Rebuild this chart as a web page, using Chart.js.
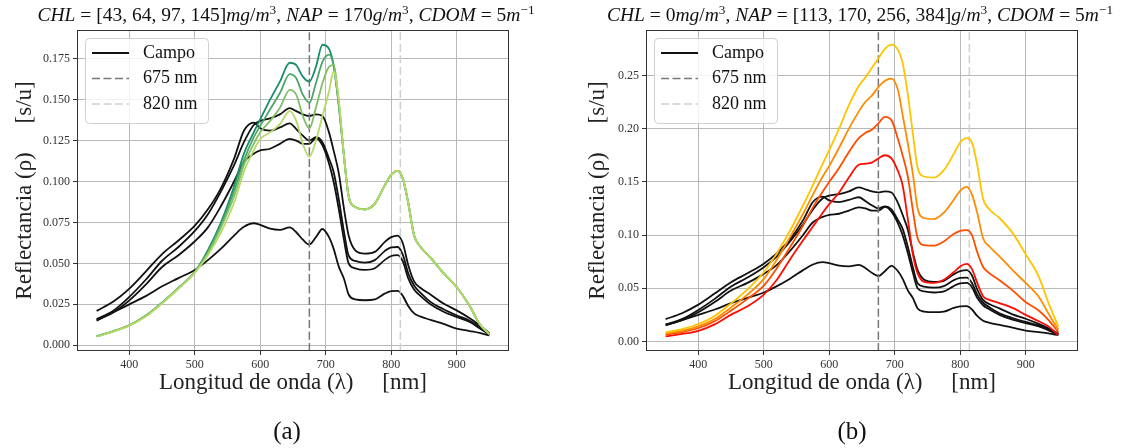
<!DOCTYPE html>
<html>
<head>
<meta charset="utf-8">
<script src="https://cdn.jsdelivr.net/npm/chart.js@4.4.1/dist/chart.umd.min.js"></script>
<style>
  html, body { margin: 0; padding: 0; background: #fff; }
  #wrap { position: relative; width: 1126px; height: 448px; overflow: hidden; font-family: "Liberation Serif", serif; color: #111; }
  canvas { position: absolute; top: 0; }
  .ttl { position: absolute; top: 4px; white-space: nowrap; font-size: 19.5px; line-height: 21px; transform: translateX(-50%); }
  .ttl sup { font-size: 0.68em; vertical-align: 0.5em; line-height: 0; }
  .cap { position: absolute; top: 418px; font-size: 25px; line-height: 26px; transform: translateX(-50%); }
</style>
</head>
<body>
<div id="wrap">
  <canvas id="chartA" width="563" height="448" style="left:0"></canvas>
  <canvas id="chartB" width="563" height="448" style="left:563px"></canvas>
  <div class="ttl" style="left:286px"><i>CHL</i> = [43, 64, 97, 145]<i>mg</i>/<i>m</i><sup>3</sup>, <i>NAP</i> = 170<i>g</i>/<i>m</i><sup>3</sup>, <i>CDOM</i> = 5<i>m</i><sup>−1</sup></div>
  <div class="ttl" style="left:860px"><i>CHL</i> = 0<i>mg</i>/<i>m</i><sup>3</sup>, <i>NAP</i> = [113, 170, 256, 384]<i>g</i>/<i>m</i><sup>3</sup>, <i>CDOM</i> = 5<i>m</i><sup>−1</sup></div>
  <div class="cap" style="left:287px">(a)</div>
  <div class="cap" style="left:852px">(b)</div>
</div>
<script>
// longitudes de onda (nm)
const WL = [350, 375, 400, 425, 450, 475, 500, 520, 540, 560, 575, 590, 600, 615, 630, 645, 655, 665, 675, 685, 695, 705, 712, 720, 728, 735, 745, 760, 775, 790, 800, 810, 818, 826, 835, 845, 860, 880, 900, 920, 935, 950];

// espectros de campo
const CAMPO_1 = [.016, .021, .0296, .040, .0516, .060, .0698, .080, .094, .110, .124, .1345, .137, .1385, .141, .1448, .143, .141, .140, .141, .140, .130, .119, .105, .083, .067, .058, .056, .057, .063, .066, .067, .062, .049, .039, .035, .031, .0255, .0213, .0165, .0123, .0075];
const CAMPO_2 = [.021, .0265, .0346, .045, .0557, .064, .073, .083, .096, .114, .131, .136, .1325, .131, .133, .1355, .132, .128, .125, .127, .124, .114, .106, .089, .069, .0547, .0515, .0505, .052, .0575, .0598, .060, .055, .044, .0365, .032, .0265, .022, .0183, .015, .0114, .007];
const CAMPO_3 = [.0155, .020, .0274, .037, .0478, .055, .0635, .072, .085, .100, .112, .117, .119, .120, .123, .126, .125, .123, .123, .1265, .122, .111, .100, .083, .064, .050, .047, .046, .047, .052, .0545, .055, .051, .041, .034, .030, .025, .0205, .0173, .0142, .0104, .0065];
const CAMPO_4 = [.015, .020, .025, .030, .036, .041, .046, .052, .059, .067, .0723, .0745, .0735, .0712, .0705, .072, .069, .0645, .0615, .066, .071, .066, .059, .048, .0405, .031, .028, .0275, .028, .0315, .033, .0332, .030, .024, .0195, .0175, .0155, .013, .0102, .0087, .0075, .006];

// simulados (a): CHL variable
const CHL_43 = [.0055, .0085, .0122, .018, .026, .035, .0447, .058, .075, .097, .117, .130, .138, .150, .161, .1725, .171, .164, .161, .170, .1835, .181, .171, .146, .115, .091, .0845, .083, .0865, .0975, .104, .1065, .1015, .087, .067, .060, .0535, .044, .0356, .024, .013, .0068];
const CHL_64 = [.0055, .0085, .0122, .018, .026, .035, .0447, .057, .0735, .094, .113, .127, .134, .144, .154, .1655, .163, .153, .148, .160, .173, .1775, .171, .147, .115, .091, .0845, .083, .0865, .0975, .104, .1065, .1015, .087, .067, .060, .0535, .044, .0356, .024, .013, .0068];
const CHL_97 = [.0054, .0084, .0121, .0178, .0258, .0348, .0445, .056, .072, .091, .110, .123, .130, .137, .145, .156, .153, .140, .1325, .145, .160, .170, .171, .148, .115, .091, .0845, .083, .0865, .0975, .104, .1065, .1015, .087, .067, .060, .0535, .044, .0356, .024, .013, .0068];
const CHL_145 = [.0053, .0083, .012, .0176, .0256, .0345, .0443, .055, .069, .087, .106, .119, .126, .130, .135, .143, .137, .123, .115, .125, .140, .155, .167, .150, .115, .091, .0845, .083, .0865, .0975, .104, .1065, .1015, .087, .067, .060, .0535, .044, .0356, .024, .013, .0068];

// simulados (b): NAP variable
const NAP_113 = [.0047, .007, .010, .016, .0252, .033, .044, .058, .077, .095, .108, .121, .129, .140, .154, .166, .167, .168, .172, .175, .172, .160, .147, .115, .081, .064, .056, .055, .058, .065, .0705, .0728, .068, .055, .0425, .039, .036, .0315, .025, .019, .014, .006];
const NAP_170 = [.0063, .0088, .0126, .019, .029, .040, .0525, .069, .0885, .109, .126, .141, .150, .163, .178, .191, .196, .199, .205, .211, .208, .190, .175, .155, .122, .097, .0905, .090, .094, .101, .104, .1047, .100, .084, .070, .064, .0575, .048, .037, .029, .020, .0088];
const NAP_256 = [.0075, .010, .0142, .021, .032, .044, .0588, .077, .098, .120, .138, .155, .165, .182, .200, .216, .225, .231, .239, .245, .247, .236, .213, .186, .156, .125, .116, .115, .121, .133, .1416, .1453, .138, .121, .097, .089, .080, .067, .055, .042, .026, .011];
const NAP_384 = [.0085, .0115, .0164, .024, .0358, .049, .065, .083, .104, .128, .147, .167, .180, .200, .222, .240, .248, .257, .266, .275, .279, .274, .262, .232, .194, .163, .155, .154, .161, .176, .187, .191, .187, .166, .134, .124, .116, .102, .082, .061, .036, .014];

const CAMPO = [CAMPO_1, CAMPO_2, CAMPO_3, CAMPO_4];
const SIM_A = [CHL_43, CHL_64, CHL_97, CHL_145];
const SIM_B = [NAP_113, NAP_170, NAP_256, NAP_384];
const COLORS_A = ['#1a8c6c', '#4ca666', '#80bf66', '#b5da66'];
const COLORS_B = ['#ff0d00', '#ff4d00', '#ff8c00', '#ffc400'];

const X_TICKS = [400, 500, 600, 700, 800, 900];
const Y_TICKS_A = [0, 0.025, 0.05, 0.075, 0.1, 0.125, 0.15, 0.175];
const Y_TICKS_B = [0, 0.05, 0.1, 0.15, 0.2, 0.25];
const V_LINES = [675, 814];
const V_LABELS = ['675 nm', '820 nm'];

const FONT = '"Liberation Serif", serif';

function series(ys) {
  return WL.map((x, i) => ({x: x, y: ys[i]}));
}

const boxPlugin = {
  id: 'boxPlugin',
  afterDatasetsDraw(chart) {
    const ctx = chart.ctx, a = chart.chartArea;
    ctx.save();
    // leyenda
    const x0 = a.left + 8, y0 = a.top + 8, w = 123, h = 85;
    ctx.beginPath();
    ctx.roundRect(x0 + 0.5, y0 + 0.5, w, h, 4);
    ctx.fillStyle = 'rgba(255,255,255,0.8)';
    ctx.fill();
    ctx.strokeStyle = '#d0d0d0';
    ctx.lineWidth = 1;
    ctx.stroke();
    const items = chart.data.datasets.filter(d => d.label);
    items.forEach((d, i) => {
      const cy = y0 + 15 + i * 25.5;
      ctx.beginPath();
      ctx.setLineDash(d.borderDash || []);
      ctx.strokeStyle = d.borderColor;
      ctx.lineWidth = d.borderWidth;
      ctx.moveTo(x0 + 7, cy);
      ctx.lineTo(x0 + 44, cy);
      ctx.stroke();
      ctx.setLineDash([]);
      ctx.fillStyle = '#111';
      ctx.font = '18px ' + FONT;
      ctx.textBaseline = 'middle';
      ctx.fillText(d.label, x0 + 58, cy);
    });
    // marco
    ctx.strokeStyle = '#333';
    ctx.lineWidth = 1;
    ctx.strokeRect(a.left + 0.5, a.top + 0.5, a.right - a.left - 1, a.bottom - a.top - 1);
    ctx.restore();
  }
};

function panel(id, sims, colors, yMin, yMax, yTicks, dec, yWidth, padRight, yTitlePad) {
  const datasets = [];
  CAMPO.forEach((ys, i) => datasets.push({
    label: i === 0 ? 'Campo' : '', data: series(ys), borderColor: '#111', borderWidth: 1.8
  }));
  V_LINES.forEach((v, i) => datasets.push({
    label: V_LABELS[i], data: [{x: v, y: yMin}, {x: v, y: yMax}],
    borderColor: i === 0 ? '#777' : '#cfcfcf', borderWidth: 1.5, borderDash: [8, 3.5]
  }));
  sims.forEach((ys, i) => datasets.push({
    label: '', data: series(ys), borderColor: colors[i], borderWidth: 1.8
  }));
  // orden de dibujo: el último en la lista queda encima
  datasets.forEach((d, i) => {
    d.pointRadius = 0; d.fill = false; d.cubicInterpolationMode = 'monotone';
    d.order = datasets.length - i;
  });

  new Chart(document.getElementById(id), {
    type: 'line',
    data: {datasets: datasets},
    plugins: [boxPlugin],
    options: {
      responsive: false,
      animation: false,
      devicePixelRatio: 1,
      layout: {padding: {left: 0, right: padRight, top: 30, bottom: 40}},
      plugins: {legend: {display: false}, tooltip: {enabled: false}},
      scales: {
        x: {
          type: 'linear', min: 320, max: 980,
          afterBuildTicks: s => { s.ticks = X_TICKS.map(v => ({value: v})); },
          afterFit: s => { s.height = 57; },
          border: {display: false},
          grid: {color: '#b8b8b8', tickColor: '#333', tickLength: 4},
          ticks: {font: {family: FONT, size: 12}, color: '#333', padding: 3, maxRotation: 0, callback: v => String(v)},
          title: {display: true, text: 'Longitud de onda (λ)\u2003 [nm]', color: '#222',
                  font: {family: FONT, size: 23}, padding: {top: 0, bottom: 11}}
        },
        y: {
          type: 'linear', min: yMin, max: yMax,
          afterBuildTicks: s => { s.ticks = yTicks.map(v => ({value: v})); },
          afterFit: s => { s.width = yWidth; },
          border: {display: false},
          grid: {color: '#b8b8b8', tickColor: '#333', tickLength: 4},
          ticks: {font: {family: FONT, size: 12}, color: '#333', padding: 3, callback: v => v.toFixed(dec)},
          title: {display: true, text: 'Reflectancia (ρ)\u2003 [s/u]', color: '#222',
                  font: {family: FONT, size: 23}, padding: {top: yTitlePad, bottom: 0}}
        }
      }
    }
  });
}

panel('chartA', SIM_A, COLORS_A, -0.0035, 0.1925, Y_TICKS_A, 3, 77, 54, 11);
panel('chartB', SIM_B, COLORS_B, -0.009, 0.2927, Y_TICKS_B, 2, 83, 48, 21);
</script>
</body>
</html>
